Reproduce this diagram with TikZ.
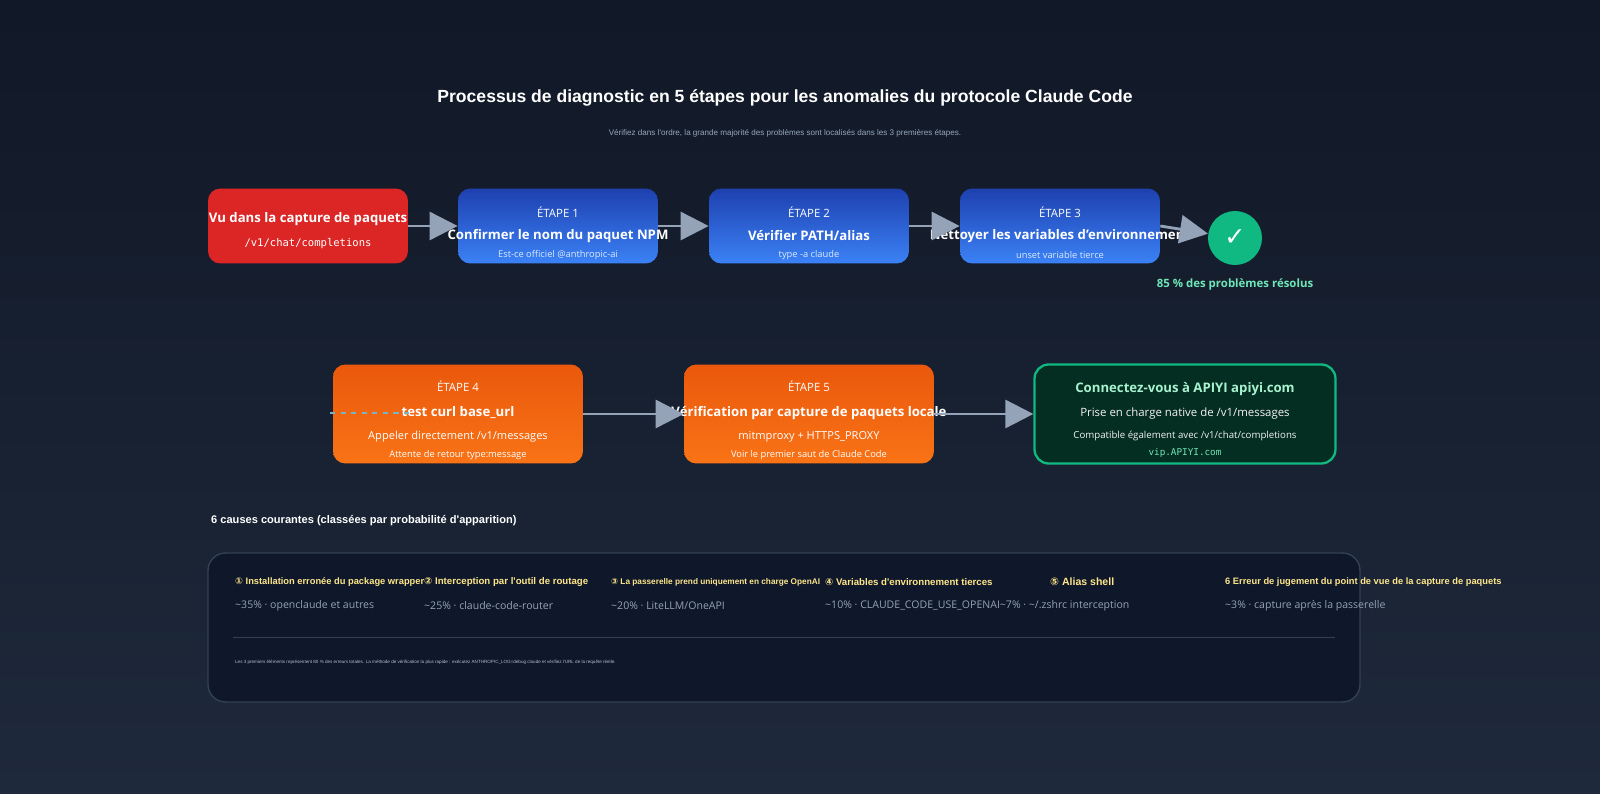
\documentclass[tikz,border=0pt]{standalone}
\usepackage{fontspec}
\setmainfont{Open Sans}
\newfontfamily\cond{Liberation Sans}
\newfontfamily\codefont{DejaVu Sans Mono}
\newfontfamily\symfont{DejaVu Sans}
\usetikzlibrary{arrows.meta}
\definecolor{bgtop}{HTML}{111827}
\definecolor{bgbot}{HTML}{1E293B}
\definecolor{redbox}{HTML}{DC2626}
\definecolor{bluetop}{HTML}{1E40AF}
\definecolor{bluebot}{HTML}{3B82F6}
\definecolor{orgtop}{HTML}{EA580C}
\definecolor{orgbot}{HTML}{F97316}
\definecolor{arrowgray}{HTML}{94A3B8}
\definecolor{okgreen}{HTML}{10B981}
\definecolor{lightgreen}{HTML}{6EE7B7}
\definecolor{palegreen}{HTML}{A7F3D0}
\definecolor{darkgreen}{HTML}{052E22}
\definecolor{panelbg}{HTML}{0F172A}
\definecolor{panelline}{HTML}{334155}
\definecolor{cause}{HTML}{FDE68A}
\definecolor{subgray}{HTML}{94A3B8}
\definecolor{paleblue}{HTML}{DBEAFE}
\tikzstyle{eS}=[line width=1.6pt,draw=arrowgray,-{Triangle[length=16pt,width=16pt]}]
\tikzstyle{stepB}=[rounded corners=7pt,minimum width=4cm,minimum height=1.5cm,inner sep=0pt,top color=bluetop,bottom color=bluebot,draw=none]
\tikzstyle{stepO}=[rounded corners=7pt,minimum width=5cm,minimum height=1.98cm,inner sep=0pt,top color=orgtop,bottom color=orgbot,draw=none]
\tikzstyle{tag}=[text=white,font=\fontsize{6.5}{8}\selectfont]
\tikzstyle{big}=[text=white,font=\bfseries\fontsize{7.5}{9}\selectfont]
\tikzstyle{small}=[text=paleblue,font=\fontsize{5.3}{6}\selectfont]
\tikzstyle{cT}=[anchor=west,text=cause,font=\cond\bfseries\fontsize{5.3}{7}\selectfont]
\tikzstyle{cS}=[anchor=west,text=subgray,font=\fontsize{6}{7}\selectfont]
\begin{document}
\begin{tikzpicture}[x=0.02cm,y=-0.02cm]
\shade[top color=bgtop,bottom color=bgbot] (0,0) rectangle (1600,794);
\useasboundingbox (0,0) rectangle (1600,794);
% titre
\node[text=white,font=\cond\bfseries\fontsize{10}{12}\selectfont] (title) at (785,98) {Processus de diagnostic en 5 étapes pour les anomalies du protocole Claude Code};
\node[text=subgray,font=\cond\fontsize{4.6}{5}\selectfont] (sub) at (785,133) {Vérifiez dans l'ordre, la grande majorité des problèmes sont localisés dans les 3 premières étapes.};
% ligne 1
\node[rounded corners=7pt,minimum width=4cm,minimum height=1.5cm,fill=redbox] (n0) at (308,226) {};
\node[big] at (308,219) {Vu dans la capture de paquets};
\node[text=white,font=\codefont\fontsize{6}{7}\selectfont] at (308,244) {/v1/chat/completions};
\foreach \i/\x/\t/\s in {1/558/Confirmer le nom du paquet NPM/Est-ce officiel @anthropic-ai,
                         2/809/Vérifier PATH\slash alias/type -a claude,
                         3/1060/Nettoyer les variables d'environnement/unset variable tierce}{
  \node[stepB] (n\i) at (\x,226) {};
  \node[tag] at (\x,212) {ÉTAPE \i};
  \node[big] at (\x,236) {\t};
  \node[small] at (\x,255) {\s};
}
\node[circle,fill=okgreen,minimum size=1.08cm,text=white,font=\symfont\bfseries\Large] (ok) at (1235,238) {✓};
\node[text=lightgreen,font=\bfseries\fontsize{6.5}{8}\selectfont] (okT) at (1235,284) {85 \% des problèmes résolus};
\path
  (n0) edge[eS] (n1)
  (n1) edge[eS] (n2)
  (n2) edge[eS] (n3)
  (n3.east) edge[eS] (ok)
;
% ligne 2
\node[stepO] (n4) at (458,414) {};
\node[tag] at (458,386) {ÉTAPE 4};
\node[big] at (458,413) {test curl base\_url};
\node[text=white,font=\fontsize{6.3}{7}\selectfont] at (458,437) {Appeler directement /v1/messages};
\node[small,text=white] at (458,455) {Attente de retour type:message};
\node[stepO] (n5) at (809,414) {};
\node[tag] at (809,386) {ÉTAPE 5};
\node[big] at (809,413) {Vérification par capture de paquets locale};
\node[text=white,font=\fontsize{6.3}{7}\selectfont] at (809,437) {mitmproxy + HTTPS\_PROXY};
\node[small,text=white] at (809,455) {Voir le premier saut de Claude Code};
\node[rounded corners=8pt,minimum width=6.02cm,minimum height=1.98cm,fill=darkgreen,draw=okgreen,line width=1.3pt] (api) at (1185,414) {};
\node[text=palegreen,font=\bfseries\fontsize{7.5}{9}\selectfont] at (1185,389) {Connectez-vous à APIYI apiyi.com};
\node[text=white!90!gray,font=\fontsize{6.5}{8}\selectfont] at (1185,414) {Prise en charge native de /v1/messages};
\node[text=white!90!gray,font=\fontsize{5.5}{7}\selectfont] at (1185,436) {Compatible également avec /v1/chat/completions};
\node[text=lightgreen,font=\codefont\fontsize{5.3}{6}\selectfont] at (1185,453) {vip.APIYI.com};
\coordinate (d0) at (330,413);
\coordinate (d1) at (412,413);
\draw[arrowgray!80!cyan,dashed,line width=0.8pt] (d0) -- (d1);
\path
  (n4) edge[eS] (n5)
  (n5) edge[eS] (api)
;
% causes
\node[anchor=west,text=white,font=\cond\bfseries\fontsize{6.3}{7}\selectfont] (causes) at (205,521) {6 causes courantes (classées par probabilité d'apparition)};
\draw[rounded corners=10pt,fill=panelbg,draw=panelline,line width=0.8pt] (208,553) rectangle (1360,702);
\node[cT] at (229,582) {{\symfont ①} Installation erronée du package wrapper};
\node[cT,font=\cond\bfseries\fontsize{5.5}{7}\selectfont] at (418,582) {{\symfont ②} Interception par l'outil de routage};
\node[cT,font=\cond\bfseries\fontsize{4.7}{7}\selectfont] at (605,582) {{\symfont ③} La passerelle prend uniquement en charge OpenAI};
\node[cT,font=\cond\bfseries\fontsize{5.5}{7}\selectfont] at (819,582) {{\symfont ④} Variables d'environnement tierces};
\node[cT,font=\cond\bfseries\fontsize{6}{7}\selectfont] at (1044,582) {{\symfont ⑤} Alias shell};
\node[cT] at (1219,582) {6 Erreur de jugement du point de vue de la capture de paquets};
\node[cS] at (229,606) {\textasciitilde35\% · openclaude et autres};
\node[cS] at (418,606) {\textasciitilde25\% · claude-code-router};
\node[cS] at (605,606) {\textasciitilde20\% · LiteLLM/OneAPI};
\node[cS] at (819,606) {\textasciitilde10\% · CLAUDE\_CODE\_USE\_OPENAI\textasciitilde7\% · \textasciitilde/.zshrc interception};
\node[cS] at (1219,606) {\textasciitilde3\% · capture après la passerelle};
\draw[panelline,line width=0.5pt] (233,637) -- (1335,637);
\node[anchor=west,text=subgray!70!white,font=\cond\fontsize{2.6}{3}\selectfont] at (229,662) {Les 3 premiers éléments représentent 80 \% des erreurs totales. La méthode de vérification la plus rapide : exécutez ANTHROPIC\_LOG=debug claude et vérifiez l'URL de la requête réelle.};
\end{tikzpicture}
\end{document}
